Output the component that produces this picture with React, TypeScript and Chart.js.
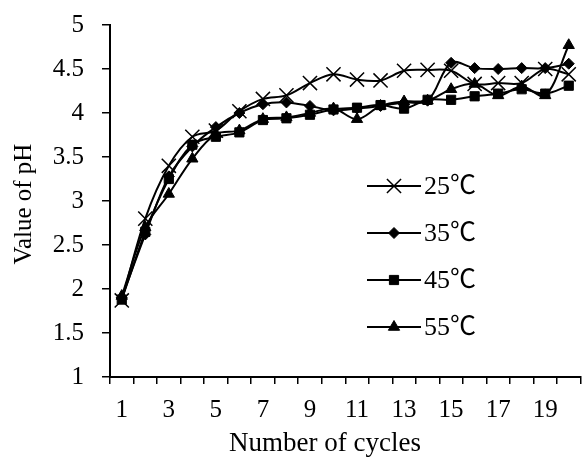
import React, { useEffect, useRef } from 'react';
import { Chart, registerables } from 'chart.js';
import { drawPoint } from 'chart.js/helpers';

Chart.register(...registerables);

const cycles = ['1', '2', '3', '4', '5', '6', '7', '8', '9', '10', '11', '12', '13', '14', '15', '16', '17', '18', '19', '20'];
const ph25 = [1.87, 2.8, 3.4, 3.73, 3.8, 4.02, 4.16, 4.2, 4.34, 4.44, 4.38, 4.37, 4.48, 4.49, 4.48, 4.33, 4.34, 4.34, 4.5, 4.44];
const ph35 = [1.9, 2.62, 3.28, 3.62, 3.84, 4.0, 4.1, 4.12, 4.08, 4.03, 4.05, 4.08, 4.12, 4.14, 4.57, 4.51, 4.5, 4.51, 4.51, 4.56];
const ph45 = [1.88, 2.65, 3.25, 3.64, 3.73, 3.78, 3.92, 3.94, 3.98, 4.04, 4.06, 4.09, 4.05, 4.15, 4.15, 4.19, 4.22, 4.27, 4.22, 4.31];
const ph55 = [1.92, 2.7, 3.08, 3.48, 3.76, 3.8, 3.93, 3.95, 4.0, 4.05, 3.93, 4.08, 4.13, 4.14, 4.27, 4.33, 4.2, 4.3, 4.2, 4.77];
const seriesLabels = ['25℃', '35℃', '45℃', '55℃'];
const yMin = 1;
const yMax = 5;
const yStep = 0.5;
const xTitle = 'Number of cycles';
const yTitle = 'Value of pH';

const FONT = "'Liberation Serif', 'Times New Roman', 'Noto Sans CJK SC', serif";

const titlesAndLegend = {
  id: 'titlesAndLegend',
  afterDraw(chart: any) {
    const ctx = chart.ctx;
    const area = chart.chartArea;
    ctx.save();
    ctx.fillStyle = '#000';
    ctx.textAlign = 'center';
    ctx.textBaseline = 'middle';
    ctx.font = `27px ${FONT}`;
    ctx.fillText(xTitle, 325, 444);
    ctx.font = `25px ${FONT}`;
    ctx.save();
    ctx.translate(24, (area.top + area.bottom) / 2 + 3);
    ctx.rotate(-Math.PI / 2);
    ctx.fillText(yTitle, 0, 0);
    ctx.restore();

    chart.data.datasets.forEach((ds: any, i: number) => {
      const y = 186 + i * 47;
      ctx.strokeStyle = '#000';
      ctx.lineWidth = 2;
      ctx.beginPath();
      ctx.moveTo(367, y);
      ctx.lineTo(421, y);
      ctx.stroke();
      ctx.fillStyle = '#000';
      ctx.strokeStyle = '#000';
      ctx.lineWidth = ds.pointBorderWidth;
      drawPoint(ctx, { pointStyle: ds.pointStyle, radius: ds.pointRadius, rotation: 0, borderWidth: ds.pointBorderWidth }, 394, y);
      ctx.fillStyle = '#000';
      ctx.textAlign = 'left';
      ctx.textBaseline = 'middle';
      ctx.font = `26px ${FONT}`;
      ctx.fillText(ds.label, 424, y + 1);
    });
    ctx.restore();
  },
};

function makeDataset(label: string, data: number[], pointStyle: string, radius: number, bw: number) {
  return {
    label,
    data,
    borderColor: '#000',
    backgroundColor: '#000',
    borderWidth: 2,
    tension: 0.35,
    pointStyle,
    pointRadius: radius,
    pointHoverRadius: radius,
    pointBackgroundColor: '#000',
    pointBorderColor: '#000',
    pointBorderWidth: bw,
  };
}

export default function App() {
  const ref = useRef<HTMLCanvasElement>(null);
  useEffect(() => {
    if (!ref.current) return;
    const chart = new Chart(ref.current, {
      type: 'line',
      data: {
        labels: cycles,
        datasets: [
          makeDataset(seriesLabels[0], ph25, 'crossRot', 10, 1.5),
          makeDataset(seriesLabels[1], ph35, 'rectRot', 5.5, 1),
          makeDataset(seriesLabels[2], ph45, 'rect', 6.5, 1),
          makeDataset(seriesLabels[3], ph55, 'triangle', 6.5, 1),
        ],
      },
      options: {
        responsive: false,
        animation: false,
        devicePixelRatio: 1,
        layout: { padding: { top: 25, right: 5, left: 0, bottom: 0 } },
        plugins: { legend: { display: false }, tooltip: { enabled: false } },
        scales: {
          x: {
            type: 'category',
            offset: true,
            grid: { offset: true, drawOnChartArea: false, drawTicks: true, tickLength: 7, color: '#000', lineWidth: 1.5 },
            border: { color: '#000', width: 2 },
            ticks: {
              autoSkip: false,
              maxRotation: 0,
              color: '#000',
              padding: 11,
              font: { family: FONT, size: 25 },
              callback: (_v: any, i: number) => (i % 2 === 0 ? cycles[i] : ''),
            },
            afterFit: (s: any) => { s.height = 81; s.paddingLeft = 0; s.paddingRight = 0; },
          },
          y: {
            min: yMin,
            max: yMax,
            grid: { drawOnChartArea: false, drawTicks: true, tickLength: 8, color: '#000', lineWidth: 1.5 },
            border: { color: '#000', width: 2 },
            ticks: {
              stepSize: yStep,
              color: '#000',
              padding: 18,
              font: { family: FONT, size: 25 },
              callback: (v: any) => String(Number(v)),
            },
            afterFit: (s: any) => { s.width = 110; s.paddingTop = 0; s.paddingBottom = 0; },
          },
        },
      },
      plugins: [titlesAndLegend],
    });
    return () => chart.destroy();
  }, []);
  return (
    <div style={{ position: 'fixed', left: 0, top: 0, width: 582, height: 458, overflow: 'hidden', background: '#fff' }}>
      <canvas ref={ref} width={592} height={458} style={{ display: 'block', width: 592, height: 458 }} />
    </div>
  );
}
